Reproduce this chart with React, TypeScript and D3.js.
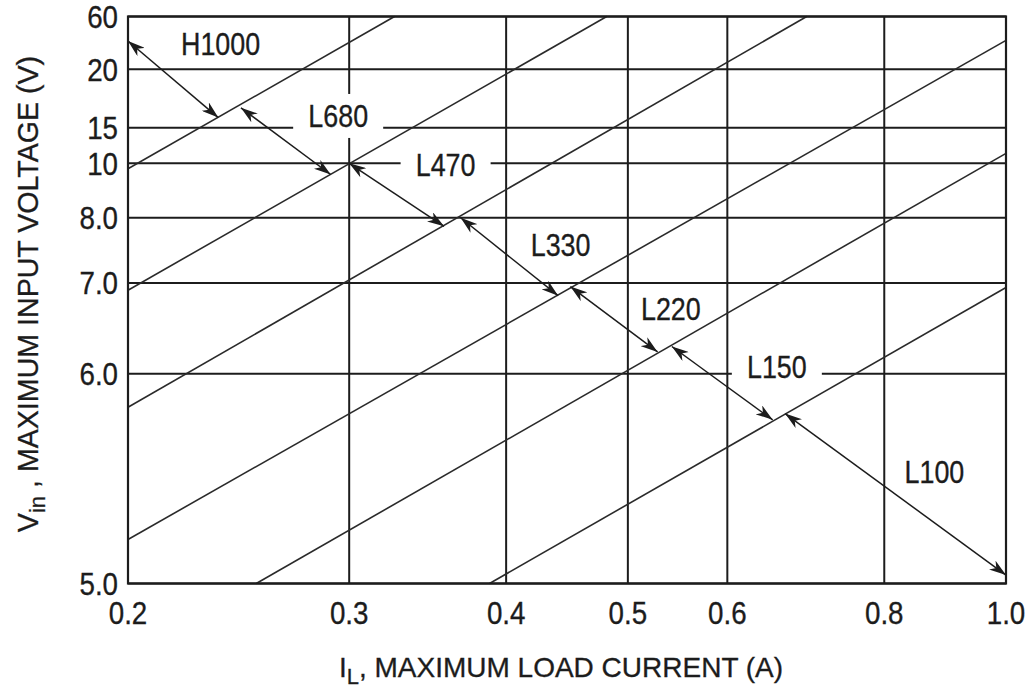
import React from "react";
import * as d3 from "d3";

// ---- data ----
const X_TICKS = [0.2, 0.3, 0.4, 0.5, 0.6, 0.8, 1.0];
const X_TICK_LABELS = ["0.2", "0.3", "0.4", "0.5", "0.6", "0.8", "1.0"];
const Y_TICKS = [5, 6, 7, 8, 10, 15, 20, 60];
const Y_TICK_LABELS = ["5.0", "6.0", "7.0", "8.0", "10", "15", "20", "60"];

// boundary lines between inductor regions (start / end in data units)
const BOUNDARY_I0 = [0.2, 0.2, 0.2, 0.2, 0.253, 0.388];
const BOUNDARY_V0 = [9.8, 6.92, 5.84, 5.21, 5.0, 5.0];
const BOUNDARY_I1 = [0.326, 0.481, 0.694, 1.0, 1.0, 1.0];
const BOUNDARY_V1 = [60, 60, 60, 41.9, 11.4, 6.95];

// region labels and their double-headed range arrows
const REGIONS = ["H1000", "L680", "L470", "L330", "L220", "L150", "L100"];
const ARROW_I0 = [0.2, 0.246, 0.3, 0.368, 0.45, 0.542, 0.667];
const ARROW_V0 = [41.4, 16.7, 10.0, 8.0, 6.96, 6.3, 5.81];
const ARROW_I1 = [0.236, 0.29, 0.357, 0.44, 0.528, 0.652, 1.0];
const ARROW_V1 = [15.86, 9.59, 7.87, 6.86, 6.24, 5.78, 5.04];
const LABEL_I = [0.237, 0.294, 0.358, 0.442, 0.541, 0.657, 0.877];
const LABEL_V = [39.6, 16.0, 9.95, 7.59, 6.72, 6.08, 5.535];
const BOXED = ["L680", "L470", "L150"];

// ---- layout ----
const W = 1032;
const H = 692;
const LEFT = 128;
const RIGHT = 1006;
const TOP = 16.5;
const BOTTOM = 583.5;
// irregular (hand-drawn) vertical axis: relative height of each tick
const Y_TICK_FRAC = [0, 0.37, 0.53, 0.645, 0.741, 0.804, 0.907, 1];

const FONT = "'Liberation Sans', Arial, sans-serif";
const INK = "#1c1c1c";

function NarrowText(props: {
  x: number;
  y: number;
  size: number;
  sx: number;
  anchor: string;
  dy?: string;
  children: React.ReactNode;
}) {
  return (
    <g transform={`translate(${props.x},${props.y}) scale(${props.sx},1)`}>
      <text
        x={0}
        y={0}
        dy={props.dy}
        textAnchor={props.anchor}
        fontSize={props.size}
        fill={INK}
        stroke={INK}
        strokeWidth={0.35}
      >
        {props.children}
      </text>
    </g>
  );
}

export default function App() {
  const x = d3.scaleLog().domain([0.2, 1.0]).range([LEFT, RIGHT]);
  const y = d3
    .scaleLinear()
    .domain(Y_TICKS)
    .range(Y_TICK_FRAC.map((f) => BOTTOM - f * (BOTTOM - TOP)));
  const line = d3
    .line<[number, number]>()
    .x((d) => x(d[0]))
    .y((d) => y(d[1]));

  return (
    <svg
      width={W}
      height={H}
      style={{ position: "absolute", left: 0, top: 0, background: "#fff" }}
      fontFamily={FONT}
    >
      <defs>
        <marker
          id="ah"
          viewBox="0 0 17 11"
          refX={17}
          refY={5.5}
          markerWidth={17}
          markerHeight={11}
          markerUnits="userSpaceOnUse"
          orient="auto-start-reverse"
        >
          <path d="M0,0 L17,5.5 L0,11 L5,5.5 Z" fill={INK} />
        </marker>
      </defs>

      {/* grid */}
      {X_TICKS.map((t) => (
        <line key={"gx" + t} x1={x(t)} x2={x(t)} y1={TOP} y2={BOTTOM} stroke={INK} strokeWidth={2} />
      ))}
      {Y_TICKS.map((t) => (
        <line key={"gy" + t} x1={LEFT} x2={RIGHT} y1={y(t)} y2={y(t)} stroke={INK} strokeWidth={2} />
      ))}

      {/* region boundaries */}
      {BOUNDARY_I0.map((_, i) => (
        <path
          key={"b" + i}
          d={line([
            [BOUNDARY_I0[i], BOUNDARY_V0[i]],
            [BOUNDARY_I1[i], BOUNDARY_V1[i]],
          ]) as string}
          fill="none"
          stroke="#2a2a2a"
          strokeWidth={1.6}
        />
      ))}

      {/* range arrows */}
      {REGIONS.map((r, i) => (
        <path
          key={"a" + r}
          d={line([
            [ARROW_I0[i], ARROW_V0[i]],
            [ARROW_I1[i], ARROW_V1[i]],
          ]) as string}
          fill="none"
          stroke={INK}
          strokeWidth={1.5}
          markerStart="url(#ah)"
          markerEnd="url(#ah)"
        />
      ))}

      {/* label boxes */}
      {REGIONS.map((r, i) =>
        BOXED.includes(r) ? (
          <rect
            key={"r" + r}
            x={x(LABEL_I[i]) - 45}
            y={y(LABEL_V[i]) - 22}
            width={90}
            height={44}
            fill="#fff"
          />
        ) : null
      )}

      {/* frame */}
      <rect x={LEFT} y={TOP} width={RIGHT - LEFT} height={BOTTOM - TOP} fill="none" stroke={INK} strokeWidth={2.2} />

      {/* region labels */}
      {REGIONS.map((r, i) => (
        <NarrowText key={"t" + r} x={x(LABEL_I[i])} y={y(LABEL_V[i])} dy="0.36em" size={32} sx={0.84} anchor="middle">
          {r}
        </NarrowText>
      ))}

      {/* tick labels */}
      {X_TICKS.map((t, i) => (
        <NarrowText key={"xl" + t} x={x(t)} y={BOTTOM + 40} size={31.5} sx={0.88} anchor="middle">
          {X_TICK_LABELS[i]}
        </NarrowText>
      ))}
      {Y_TICKS.map((t, i) => (
        <NarrowText key={"yl" + t} x={LEFT - 10} y={y(t)} dy="0.36em" size={31.5} sx={0.88} anchor="end">
          {Y_TICK_LABELS[i]}
        </NarrowText>
      ))}

      {/* axis titles */}
      <text x={(LEFT + RIGHT) / 2 - 6} y={677} textAnchor="middle" fontSize={28} fill={INK} stroke={INK} strokeWidth={0.3}>
        I<tspan dy={7} fontSize={22}>L</tspan>
        <tspan dy={-7}>, MAXIMUM LOAD CURRENT (A)</tspan>
      </text>
      <text
        transform={`translate(38, ${294}) rotate(-90)`}
        textAnchor="middle"
        fontSize={28.6}
        fill={INK}
        stroke={INK}
        strokeWidth={0.3}
      >
        V<tspan dy={7} fontSize={22}>in</tspan>
        <tspan dy={-7}> , MAXIMUM INPUT VOLTAGE (V)</tspan>
      </text>
    </svg>
  );
}
